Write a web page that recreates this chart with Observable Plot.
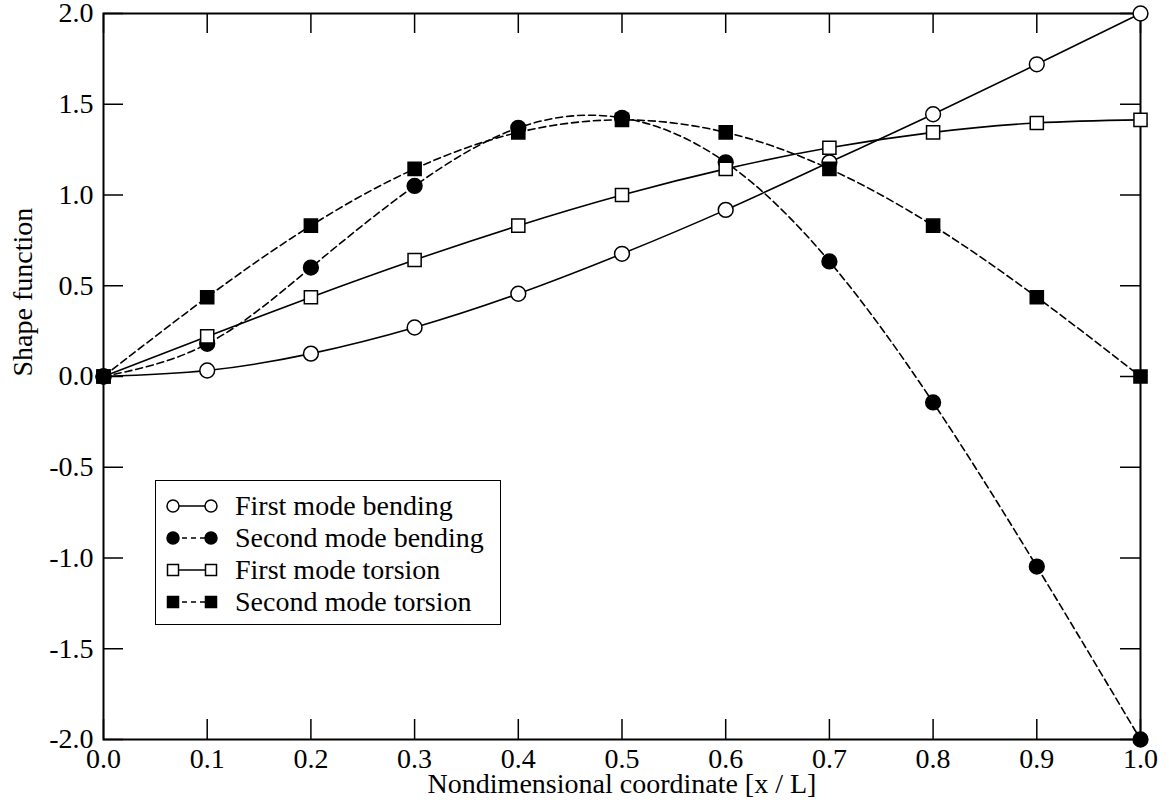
<!DOCTYPE html>
<html>
<head>
<meta charset="utf-8">
<script src="https://cdn.jsdelivr.net/npm/d3@7"></script>
<script src="https://cdn.jsdelivr.net/npm/@observablehq/plot@0.6"></script>
<style>
  html, body { margin: 0; padding: 0; background: #fff; }
  #chart { position: relative; width: 1169px; height: 811px; font-family: "Liberation Serif", "Times New Roman", serif; }
  #legend { position: absolute; left: 155px; top: 480px; width: 344px; border: 1.5px solid #000; background: #fff; padding: 9px 0 6px 0; }
  .row { display: flex; align-items: center; height: 32px; font-size: 28px; color: #000; white-space: nowrap; }
  .row svg { margin-left: 9px; margin-right: 16px; flex: none; }
</style>
</head>
<body>
<div id="chart"></div>
<script>
// Nondimensional coordinate along the beam
const xCoord = [0.0, 0.1, 0.2, 0.3, 0.4, 0.5, 0.6, 0.7, 0.8, 0.9, 1.0];

// Shape function values per mode
const firstBending  = [0, 0.033, 0.126, 0.27, 0.456, 0.676, 0.918, 1.18, 1.445, 1.72, 2.0];
const secondBending = [0, 0.18, 0.60, 1.05, 1.37, 1.425, 1.18, 0.634, -0.143, -1.047, -2.0];
const firstTorsion  = [0, 0.221, 0.437, 0.642, 0.831, 1.0, 1.144, 1.26, 1.345, 1.397, 1.414];
const secondTorsion = [0, 0.437, 0.831, 1.144, 1.345, 1.414, 1.345, 1.144, 0.831, 0.437, 0];

const seriesNames = ["First mode bending", "Second mode bending", "First mode torsion", "Second mode torsion"];

// Axis ticks
const xTicks = [0.0, 0.1, 0.2, 0.3, 0.4, 0.5, 0.6, 0.7, 0.8, 0.9, 1.0];
const yTicks = [-2.0, -1.5, -1.0, -0.5, 0.0, 0.5, 1.0, 1.5, 2.0];

const xLabel = "Nondimensional coordinate [x / L]";
const yLabel = "Shape function";

const series = [
  {name: seriesNames[0], values: firstBending,  symbol: "circle", filled: false, dashed: false},
  {name: seriesNames[1], values: secondBending, symbol: "circle", filled: true,  dashed: true},
  {name: seriesNames[2], values: firstTorsion,  symbol: "square", filled: false, dashed: false},
  {name: seriesNames[3], values: secondTorsion, symbol: "square", filled: true,  dashed: true}
];

const W = 1169, H = 811;
const mL = 103, mR = 29, mT = 13, mB = 72;
const iW = W - mL - mR, iH = H - mT - mB;
const tickLen = 20;
const FS = 28;
const fmt = d => d.toFixed(1);
const DASH = "7,4";

const seriesMarks = [];
for (const s of series) {
  const pts = xCoord.map((x, i) => ({x, y: s.values[i], name: s.name}));
  const lineOpts = {x: "x", y: "y", curve: "natural", stroke: "black", strokeWidth: 1.6};
  if (s.dashed) lineOpts.strokeDasharray = DASH;
  seriesMarks.push(Plot.line(pts, lineOpts));
  seriesMarks.push(Plot.dot(pts, {
    x: "x", y: "y",
    symbol: s.symbol,
    r: s.symbol === "circle" ? 7.4 : 7.4,
    fill: s.filled ? "black" : "white",
    stroke: "black",
    strokeWidth: 1.5
  }));
}

const chart = Plot.plot({
  width: W,
  height: H,
  marginLeft: mL,
  marginRight: mR,
  marginTop: mT,
  marginBottom: mB,
  x: {domain: [0, 1]},
  y: {domain: [-2, 2]},
  style: {fontFamily: "'Liberation Serif', 'Times New Roman', serif", fontSize: FS + "px", background: "white", color: "black", overflow: "visible"},
  marks: [
    Plot.axisX(xTicks, {tickSize: 0, tickPadding: 9, tickFormat: fmt, label: null, fontSize: FS}),
    Plot.axisY(yTicks, {tickSize: 0, tickPadding: 10, tickFormat: fmt, label: null, fontSize: FS}),
    // inward ticks on all four sides
    Plot.tickX(xTicks, {x: d => d, insetTop: iH - tickLen, stroke: "black", strokeWidth: 1.5}),
    Plot.tickX(xTicks, {x: d => d, insetBottom: iH - tickLen, stroke: "black", strokeWidth: 1.5}),
    Plot.tickY(yTicks, {y: d => d, insetRight: iW - tickLen, stroke: "black", strokeWidth: 1.5}),
    Plot.tickY(yTicks, {y: d => d, insetLeft: iW - tickLen, stroke: "black", strokeWidth: 1.5}),
    Plot.frame({stroke: "black", strokeWidth: 2}),
    ...seriesMarks,
    Plot.text([yLabel], {text: d => d, frameAnchor: "left", rotate: -90, dx: -80, fontSize: FS, fill: "black"}),
    Plot.text([xLabel], {text: d => d, frameAnchor: "bottom", dy: 53, fontSize: FS, fill: "black"})
  ]
});

const container = document.getElementById("chart");
container.appendChild(chart);

// Legend box inset in the lower-left of the plot area
const legend = document.createElement("div");
legend.id = "legend";
const ns = "http://www.w3.org/2000/svg";
for (const s of series) {
  const row = document.createElement("div");
  row.className = "row";
  const sw = document.createElementNS(ns, "svg");
  sw.setAttribute("width", "54");
  sw.setAttribute("height", "20");
  const ln = document.createElementNS(ns, "line");
  ln.setAttribute("x1", "8"); ln.setAttribute("x2", "46");
  ln.setAttribute("y1", "10"); ln.setAttribute("y2", "10");
  ln.setAttribute("stroke", "black"); ln.setAttribute("stroke-width", "1.5");
  if (s.dashed) ln.setAttribute("stroke-dasharray", "5,4");
  sw.appendChild(ln);
  for (const cx of [8, 46]) {
    let m;
    if (s.symbol === "circle") {
      m = document.createElementNS(ns, "circle");
      m.setAttribute("cx", cx); m.setAttribute("cy", 10); m.setAttribute("r", 6);
    } else {
      m = document.createElementNS(ns, "rect");
      m.setAttribute("x", cx - 5.5); m.setAttribute("y", 4.5);
      m.setAttribute("width", 11); m.setAttribute("height", 11);
    }
    m.setAttribute("fill", s.filled ? "black" : "white");
    m.setAttribute("stroke", "black");
    m.setAttribute("stroke-width", "1.5");
    sw.appendChild(m);
  }
  row.appendChild(sw);
  const label = document.createElement("span");
  label.textContent = s.name;
  row.appendChild(label);
  legend.appendChild(row);
}
container.appendChild(legend);
</script>
</body>
</html>
